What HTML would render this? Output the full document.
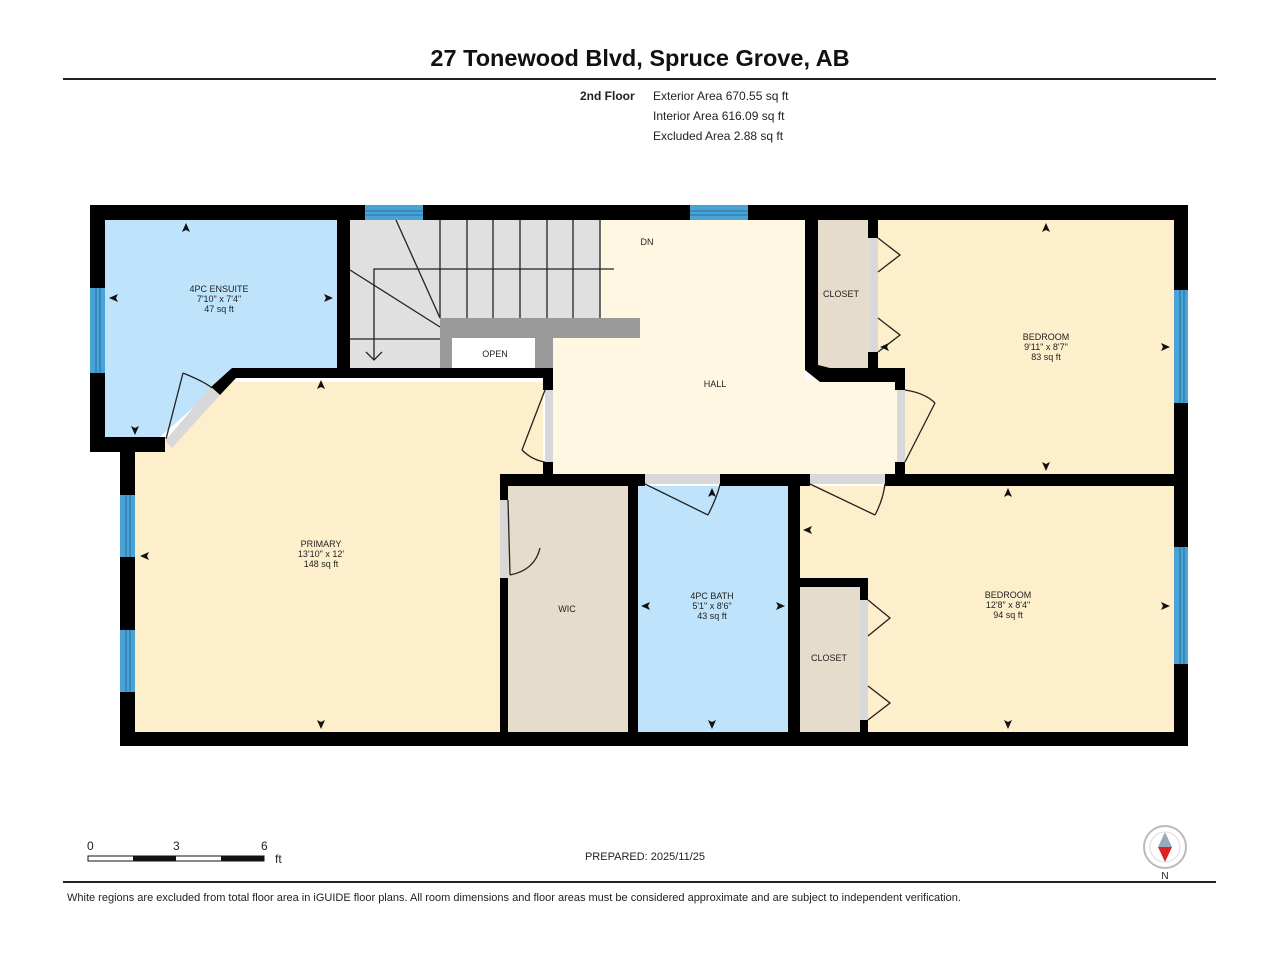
<!DOCTYPE html><html><head><style>body{margin:0;background:#fff}svg{display:block}text{font-family:"Liberation Sans",Arial,sans-serif}</style></head><body>
<svg width="1280" height="960" viewBox="0 0 1280 960" xmlns="http://www.w3.org/2000/svg">
<text x="640" y="66" font-size="23.5" font-weight="bold" text-anchor="middle" fill="#111">27 Tonewood Blvd, Spruce Grove, AB</text>
<rect x="63" y="78" width="1153" height="2" fill="#222"/>
<text x="580" y="100" font-size="12" font-weight="bold" fill="#222">2nd Floor</text>
<g font-size="12" fill="#222"><text x="653" y="100">Exterior Area 670.55 sq ft</text><text x="653" y="120">Interior Area 616.09 sq ft</text><text x="653" y="140">Excluded Area 2.88 sq ft</text></g>
<!-- fills -->
<polygon points="105,220 337,220 337,368 232,368 213,390 160,437 105,437" fill="#bfe3fa"/>
<polygon points="160,448 232,382 543,382 543,475 500,475 500,732 135,732 135,448" fill="#fdefcc"/>
<rect x="350" y="220" width="90" height="148" fill="#e0e0e0"/>
<rect x="440" y="220" width="160" height="98" fill="#e0e0e0"/>
<polygon points="878,220 1174,220 1174,474 905,474 905,370 878,370" fill="#fdefcc"/>
<rect x="600" y="220" width="205" height="100" fill="#fff7e1"/>
<rect x="553" y="318" width="252" height="157" fill="#fff7e1"/>
<rect x="805" y="380" width="92" height="95" fill="#fff7e1"/>
<rect x="818" y="220" width="52" height="148" fill="#e6dccb"/>
<rect x="508" y="486" width="120" height="246" fill="#e6dccb"/>
<rect x="638" y="486" width="150" height="246" fill="#bfe3fa"/>
<rect x="800" y="486" width="374" height="246" fill="#fdefcc"/>
<rect x="800" y="587" width="60" height="145" fill="#e6dccb"/>
<!-- stairs -->
<g stroke="#222" stroke-width="1.3" fill="none">
<line x1="440" y1="220" x2="440" y2="318"/><line x1="467" y1="220" x2="467" y2="318"/><line x1="493" y1="220" x2="493" y2="318"/><line x1="520" y1="220" x2="520" y2="318"/><line x1="547" y1="220" x2="547" y2="318"/><line x1="573" y1="220" x2="573" y2="318"/><line x1="600" y1="220" x2="600" y2="318"/>
<line x1="396" y1="220" x2="440" y2="318"/><line x1="350" y1="270" x2="440" y2="327"/>
<line x1="350" y1="339" x2="440" y2="339"/>
<polyline points="614,269 374,269 374,360"/><polyline points="366,352 374,360 382,352"/>
</g>
<rect x="440" y="318" width="200" height="20" fill="#9a9a9a"/>
<rect x="440" y="338" width="12" height="30" fill="#9a9a9a"/>
<rect x="535" y="338" width="18" height="30" fill="#9a9a9a"/>
<rect x="452" y="338" width="83" height="30" fill="#fff"/>
<text x="495" y="357" font-size="9" text-anchor="middle" fill="#222">OPEN</text>
<!-- walls -->
<g fill="#000">
<rect x="90" y="205" width="1098" height="15"/>
<rect x="90" y="205" width="15" height="247"/>
<rect x="90" y="437" width="75" height="15"/>
<rect x="120" y="448" width="15" height="298"/>
<rect x="120" y="732" width="1068" height="14"/>
<rect x="1174" y="205" width="14" height="541"/>
<rect x="337" y="205" width="13" height="165"/>
<polygon points="232,368 553,368 553,378 236,378 220,395 211,387"/>
<rect x="543" y="368" width="10" height="22"/><rect x="543" y="462" width="10" height="14"/>
<polygon points="805,205 818,205 818,365 830,368 905,368 905,390 895,390 895,382 820,382 805,370"/>
<rect x="868" y="205" width="10" height="33"/><rect x="868" y="352" width="10" height="18"/>
<rect x="895" y="462" width="10" height="14"/>
<rect x="500" y="474" width="145" height="12"/><rect x="720" y="474" width="90" height="12"/><rect x="885" y="474" width="300" height="12"/>
<rect x="500" y="474" width="8" height="26"/><rect x="500" y="578" width="8" height="160"/>
<rect x="628" y="480" width="10" height="255"/>
<rect x="788" y="480" width="12" height="255"/>
<rect x="790" y="578" width="78" height="9"/>
<rect x="860" y="578" width="8" height="22"/><rect x="860" y="720" width="8" height="15"/>
</g>
<!-- door gaps gray -->
<g fill="#d8d8d8">
<polygon points="165,441 211,387 220,395 172,448"/>
<rect x="545" y="390" width="8" height="72"/>
<rect x="897" y="390" width="8" height="72"/>
<rect x="870" y="238" width="8" height="114"/>
<rect x="645" y="474" width="75" height="10"/>
<rect x="810" y="474" width="75" height="10"/>
<rect x="500" y="500" width="8" height="78"/>
<rect x="860" y="600" width="8" height="120"/>
</g>
<!-- windows -->
<g fill="#4aa3d6"><rect x="365" y="205" width="58" height="15"/><rect x="690" y="205" width="58" height="15"/><rect x="90" y="288" width="15" height="85"/><rect x="1174" y="290" width="14" height="113"/><rect x="120" y="495" width="15" height="62"/><rect x="120" y="630" width="15" height="62"/><rect x="1174" y="547" width="14" height="117"/></g>
<g stroke="#1a5f8c" stroke-width="0.8">
<line x1="365" y1="211" x2="423" y2="211"/><line x1="365" y1="215" x2="423" y2="215"/>
<line x1="690" y1="211" x2="748" y2="211"/><line x1="690" y1="215" x2="748" y2="215"/>
<line x1="96" y1="288" x2="96" y2="373"/><line x1="100" y1="288" x2="100" y2="373"/>
<line x1="1180" y1="290" x2="1180" y2="403"/><line x1="1184" y1="290" x2="1184" y2="403"/>
<line x1="126" y1="495" x2="126" y2="557"/><line x1="130" y1="495" x2="130" y2="557"/>
<line x1="126" y1="630" x2="126" y2="692"/><line x1="130" y1="630" x2="130" y2="692"/>
<line x1="1180" y1="547" x2="1180" y2="664"/><line x1="1184" y1="547" x2="1184" y2="664"/>
</g>
<!-- door swings -->
<g stroke="#222" stroke-width="1.3" fill="none">
<polyline points="166,439 183,373"/><path d="M183,373 Q205,382 212,388"/>
<polyline points="545,390 522,450"/><path d="M522,450 Q532,460 545,462"/>
<polyline points="905,462 935,403"/><path d="M935,403 Q925,393 905,390"/>
<polyline points="878,238 900,255 878,272"/><polyline points="878,318 900,335 878,352"/>
<polyline points="868,600 890,618 868,636"/><polyline points="868,686 890,703 868,720"/>
<polyline points="645,484 708,515"/><path d="M708,515 Q718,495 720,484"/>
<polyline points="810,484 875,515"/><path d="M875,515 Q883,500 885,484"/>
<polyline points="508,500 510,575"/><path d="M510,575 Q535,570 540,548"/>
</g>
<!-- labels -->
<g font-size="9" fill="#222" text-anchor="middle">
<text x="219" y="292">4PC ENSUITE</text><text x="219" y="302">7'10" x 7'4"</text><text x="219" y="312">47 sq ft</text>
<text x="647" y="245">DN</text><text x="715" y="387">HALL</text><text x="841" y="297">CLOSET</text>
<text x="1046" y="340">BEDROOM</text><text x="1046" y="350">9'11" x 8'7"</text><text x="1046" y="360">83 sq ft</text>
<text x="321" y="547">PRIMARY</text><text x="321" y="557">13'10" x 12'</text><text x="321" y="567">148 sq ft</text>
<text x="567" y="612">WIC</text>
<text x="712" y="599">4PC BATH</text><text x="712" y="609">5'1" x 8'6"</text><text x="712" y="619">43 sq ft</text>
<text x="1008" y="598">BEDROOM</text><text x="1008" y="608">12'8" x 8'4"</text><text x="1008" y="618">94 sq ft</text>
<text x="829" y="661">CLOSET</text>
</g>
<!-- dimension arrows -->
<g fill="#111">
<polygon points="186,223 182,232 186,230 190,232"/><polygon points="109,298 118,294 116,298 118,302"/><polygon points="333,298 324,294 326,298 324,302"/><polygon points="135,435 131,426 135,428 139,426"/>
<polygon points="321,380 317,389 321,387 325,389"/><polygon points="140,556 149,552 147,556 149,560"/><polygon points="321,729 317,720 321,722 325,720"/>
<polygon points="1046,223 1042,232 1046,230 1050,232"/><polygon points="1170,347 1161,343 1163,347 1161,351"/><polygon points="1046,471 1042,462 1046,464 1050,462"/><polygon points="880,347 889,343 887,347 889,351"/>
<polygon points="1008,488 1004,497 1008,495 1012,497"/><polygon points="803,530 812,526 810,530 812,534"/><polygon points="1170,606 1161,602 1163,606 1161,610"/><polygon points="1008,729 1004,720 1008,722 1012,720"/>
<polygon points="712,488 708,497 712,495 716,497"/><polygon points="641,606 650,602 648,606 650,610"/><polygon points="785,606 776,602 778,606 776,610"/><polygon points="712,729 708,720 712,722 716,720"/>
</g>
<!-- scale -->
<g font-size="12" fill="#222"><text x="87" y="850">0</text><text x="173" y="850">3</text><text x="261" y="850">6</text><text x="275" y="863">ft</text></g>
<rect x="88" y="856" width="176" height="5" fill="#fff" stroke="#111" stroke-width="1"/>
<rect x="133" y="856" width="43" height="5" fill="#111"/><rect x="221" y="856" width="43" height="5" fill="#111"/>
<text x="645" y="860" font-size="11" text-anchor="middle" fill="#222">PREPARED: 2025/11/25</text>
<circle cx="1165" cy="847" r="21" fill="#fff" stroke="#bbb" stroke-width="2"/><circle cx="1165" cy="847" r="15" fill="#fff" stroke="#ddd"/>
<polygon points="1158,847 1172,847 1165,862" fill="#d22"/><polygon points="1158,847 1172,847 1165,832" fill="#9ab"/>
<text x="1165" y="879" font-size="10" text-anchor="middle" fill="#222">N</text>
<rect x="63" y="881" width="1153" height="2" fill="#222"/>
<text x="67" y="901" font-size="11" fill="#222">White regions are excluded from total floor area in iGUIDE floor plans. All room dimensions and floor areas must be considered approximate and are subject to independent verification.</text>
</svg></body></html>
